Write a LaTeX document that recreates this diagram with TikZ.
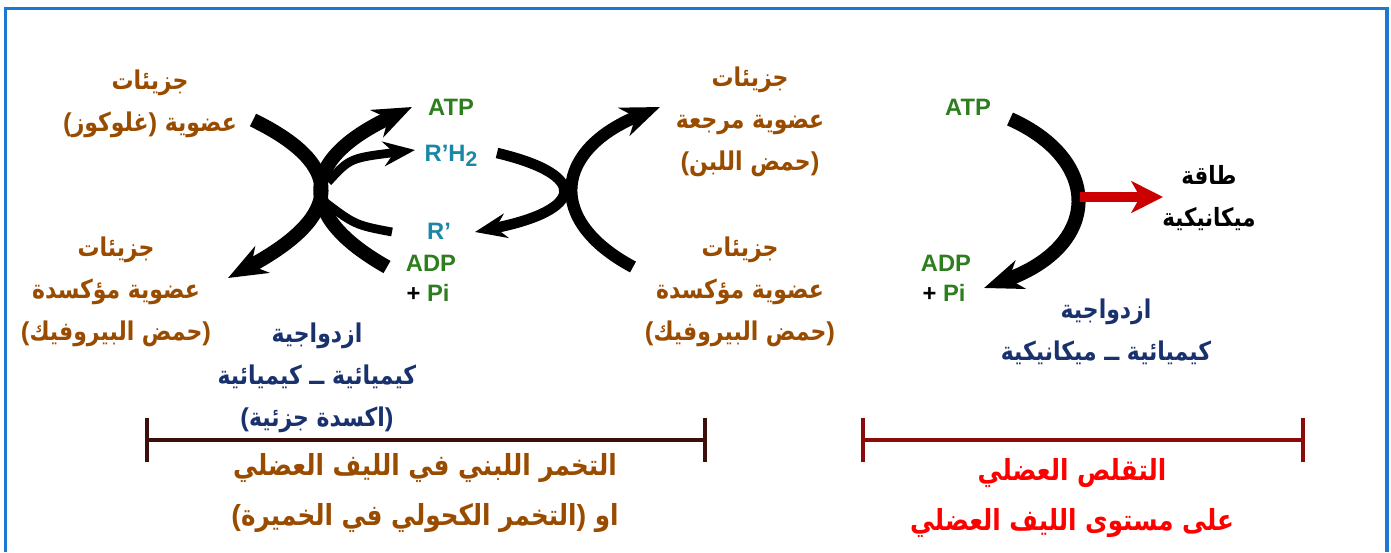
\documentclass[tikz,border=0pt]{standalone}
\usepackage{fontspec}
\setmainfont{Liberation Sans}
\newfontfamily\arabicfont[Script=Arabic,FakeStretch=0.85]{DejaVu Sans}
\usetikzlibrary{arrows.meta}
\TeXXeTstate=1
\newcommand{\rtl}[1]{\beginR#1\endR}
\newcommand{\opn}{{\rmfamily(}}
\newcommand{\cls}{{\rmfamily)}}
\definecolor{browntxt}{RGB}{153,76,0}
\definecolor{navytxt}{RGB}{25,50,110}
\definecolor{greentxt}{RGB}{46,125,30}
\definecolor{tealtxt}{RGB}{25,135,165}
\definecolor{framebl}{RGB}{30,120,210}
\definecolor{barbrown}{RGB}{60,15,10}
\definecolor{barred}{RGB}{140,10,10}
\tikzset{
artext/.style={
font=\arabicfont\bfseries\fontsize{14.7}{24}\selectfont,
align=center,
inner sep=0pt
},
brownlbl/.style={artext,text=browntxt},
navylbl/.style={artext,text=navytxt},
biglbl/.style={artext,font=\arabicfont\bfseries\fontsize{16.5}{28}\selectfont},
chem/.style={
font=\bfseries\fontsize{13.5}{15}\selectfont,
inner sep=0pt,
text=greentxt
},
bigarrow/.style={
-{Stealth[length=22pt,width=17pt,inset=7pt]},
line width=8pt
},
thinarrow/.style={
-{Stealth[length=18pt,width=14pt,inset=6pt]},
line width=5pt
},
bar/.style={line width=2.3pt}
}

\begin{document}
\begin{tikzpicture}[x=0.02cm,y=-0.02cm]
\useasboundingbox (0,0) rectangle (1391,552);
\draw[framebl,line width=1.8pt] (5.5,552) -- (5.5,8.5) -- (1387,8.5) -- (1387,552);

\node[brownlbl] (glc) at (150,104) {\rtl{جزيئات}\\\opn\rtl{غلوكوز}\cls{} \rtl{عضوية}};
\node[brownlbl] (oxl) at (116,292) {\rtl{جزيئات}\\\rtl{عضوية مؤكسدة}\\\opn\rtl{حمض البيروفيك}\cls};
\node[brownlbl] (lac) at (750,122) {\rtl{جزيئات}\\\rtl{عضوية مرجعة}\\\opn\rtl{حمض اللبن}\cls};
\node[brownlbl] (oxr) at (740,292) {\rtl{جزيئات}\\\rtl{عضوية مؤكسدة}\\\opn\rtl{حمض البيروفيك}\cls};
\node[navylbl] (cpl) at (317,378) {\rtl{ازدواجية}\\\rtl{كيميائية ــ كيميائية}\\\opn\rtl{اكسدة جزئية}\cls};
\node[navylbl] (cpr) at (1106,332) {\rtl{ازدواجية}\\\rtl{كيميائية ــ ميكانيكية}};
\node[artext,font=\arabicfont\bfseries\fontsize{14.3}{24}\selectfont] (nrg) at (1209,198) {\rtl{طاقة}\\\rtl{ميكانيكية}};
\node[biglbl,text=browntxt] (ferm) at (425,493) {\rtl{التخمر اللبني في الليف العضلي}\\\opn\rtl{التخمر الكحولي في الخميرة}\cls{} \rtl{او}};
\node[biglbl,text=red] (contr) at (1072,498) {\rtl{التقلص العضلي}\\\rtl{على مستوى الليف العضلي}};

\node[chem] (atpl) at (451,107) {ATP};
\node[chem,text=tealtxt] (rh2) at (451,156) {R'H\raisebox{-0.35ex}{\fontsize{12}{12}\selectfont 2}};
\node[chem,text=tealtxt] (rp) at (439,231) {R'};
\node[chem] (adpl) at (431,263) {ADP};
\node[chem] (pil) at (428,293) {{\color{black}+} Pi};
\node[chem] (atpr) at (968,107) {ATP};
\node[chem] (adpr) at (946,263) {ADP};
\node[chem] (pir) at (944,293) {{\color{black}+} Pi};

\coordinate (g0) at (253,120);
\coordinate (p0) at (228,278);
\coordinate (d0) at (387,267);
\coordinate (t0) at (412,107);
\coordinate (m0) at (328,182);
\coordinate (h0) at (415,150);
\coordinate (r0) at (392,232);
\coordinate (c0) at (322,200);
\coordinate (h1) at (497,153);
\coordinate (r1) at (475,232);
\coordinate (p1) at (633,267);
\coordinate (l1) at (660,107);
\coordinate (t2) at (1010,119);
\coordinate (d2) at (984,288);
\coordinate (e0) at (1080,197);
\coordinate (e1) at (1163,197);

\draw[bigarrow] (g0) .. controls (345,165) and (345,215) .. (p0);
\draw[bigarrow] (d0) .. controls (295,215) and (300,160) .. (t0);
\draw[thinarrow] (m0) .. controls (350,158) .. (h0);
\draw[line width=5pt] (r0) .. controls (355,225) .. (c0);
\draw[thinarrow,line width=6pt] (h1) .. controls (590,175) and (585,210) .. (r1);
\draw[bigarrow,line width=7pt] (p1) .. controls (545,220) and (555,150) .. (l1);
\draw[bigarrow] (t2) .. controls (1102,160) and (1102,245) .. (d2);
\draw[-{Stealth[length=18pt,width=18pt,inset=5pt]},line width=5.5pt,red!80!black] (e0) -- (e1);

\draw[bar,barbrown] (147,418) -- (147,462) (147,440) -- (705,440) (705,418) -- (705,462);
\draw[bar,barred] (863,418) -- (863,462) (863,440) -- (1303,440) (1303,418) -- (1303,462);
\end{tikzpicture}
\end{document}
